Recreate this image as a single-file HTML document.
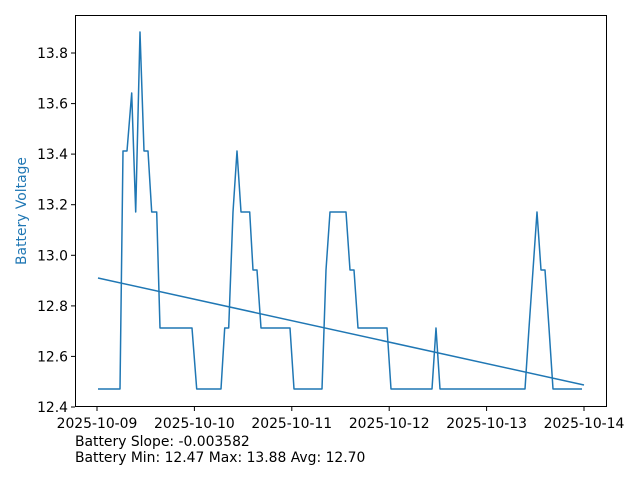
<!DOCTYPE html>
<html><head><style>
body{margin:0;background:#fff;}
svg{display:block;font-family:"DejaVu Sans","Liberation Sans",sans-serif;}
</style></head><body>
<svg width="640" height="480" viewBox="0 0 640 480">
<rect width="640" height="480" fill="#fff"/>
<polyline fill="none" stroke="#1f77b4" stroke-width="1.5" stroke-linejoin="round" points="98,389 120,389 123,151 127,151 131.7,93 135.7,212 140,32 144,151 148,151 151.7,212 156.7,212 160,328 192,328 196.7,389 221,389 224.7,328 228.7,328 233,212 237,151 241,212 249.7,212 253,270 257,270 261,328 290,328 294,389 322,389 326,270 330,212 346,212 350,270 354,270 358,328 387,328 391,389 432,389 436,328 440,389 525,389 529,328 537,212 541,270 545,270 549,328 553,389 582,389"/>
<line x1="98" y1="278" x2="584" y2="385" stroke="#1f77b4" stroke-width="1.5"/>
<rect x="75.5" y="15.5" width="531" height="391" fill="none" stroke="#000" stroke-width="1"/>
<g stroke="#000" stroke-width="1">
<line x1="71" x2="75" y1="407" y2="407"/><line x1="71" x2="75" y1="356.4" y2="356.4"/><line x1="71" x2="75" y1="305.9" y2="305.9"/><line x1="71" x2="75" y1="255.3" y2="255.3"/><line x1="71" x2="75" y1="204.7" y2="204.7"/><line x1="71" x2="75" y1="154.1" y2="154.1"/><line x1="71" x2="75" y1="103.6" y2="103.6"/><line x1="71" x2="75" y1="53" y2="53"/>
<line x1="97" x2="97" y1="407" y2="411"/><line x1="194.4" x2="194.4" y1="407" y2="411"/><line x1="291.8" x2="291.8" y1="407" y2="411"/><line x1="389.2" x2="389.2" y1="407" y2="411"/><line x1="486.6" x2="486.6" y1="407" y2="411"/><line x1="584" x2="584" y1="407" y2="411"/>
</g>
<g font-size="13.9" fill="#000" text-anchor="end">
<text x="68" y="412">12.4</text><text x="68" y="361.4">12.6</text><text x="68" y="310.9">12.8</text><text x="68" y="260.3">13.0</text><text x="68" y="209.7">13.2</text><text x="68" y="159.1">13.4</text><text x="68" y="108.6">13.6</text><text x="68" y="58">13.8</text>
</g>
<g font-size="13.9" fill="#000" text-anchor="middle">
<text x="97" y="428">2025-10-09</text><text x="194.4" y="428">2025-10-10</text><text x="291.8" y="428">2025-10-11</text><text x="389.2" y="428">2025-10-12</text><text x="486.6" y="428">2025-10-13</text><text x="584" y="428">2025-10-14</text>
</g>
<text transform="translate(26,211) rotate(-90)" font-size="13.9" fill="#1f77b4" text-anchor="middle">Battery Voltage</text>
<text x="75" y="446" font-size="13.9">Battery Slope: -0.003582</text>
<text x="75" y="462" font-size="13.9">Battery Min: 12.47 Max: 13.88 Avg: 12.70</text>
</svg>
</body></html>
